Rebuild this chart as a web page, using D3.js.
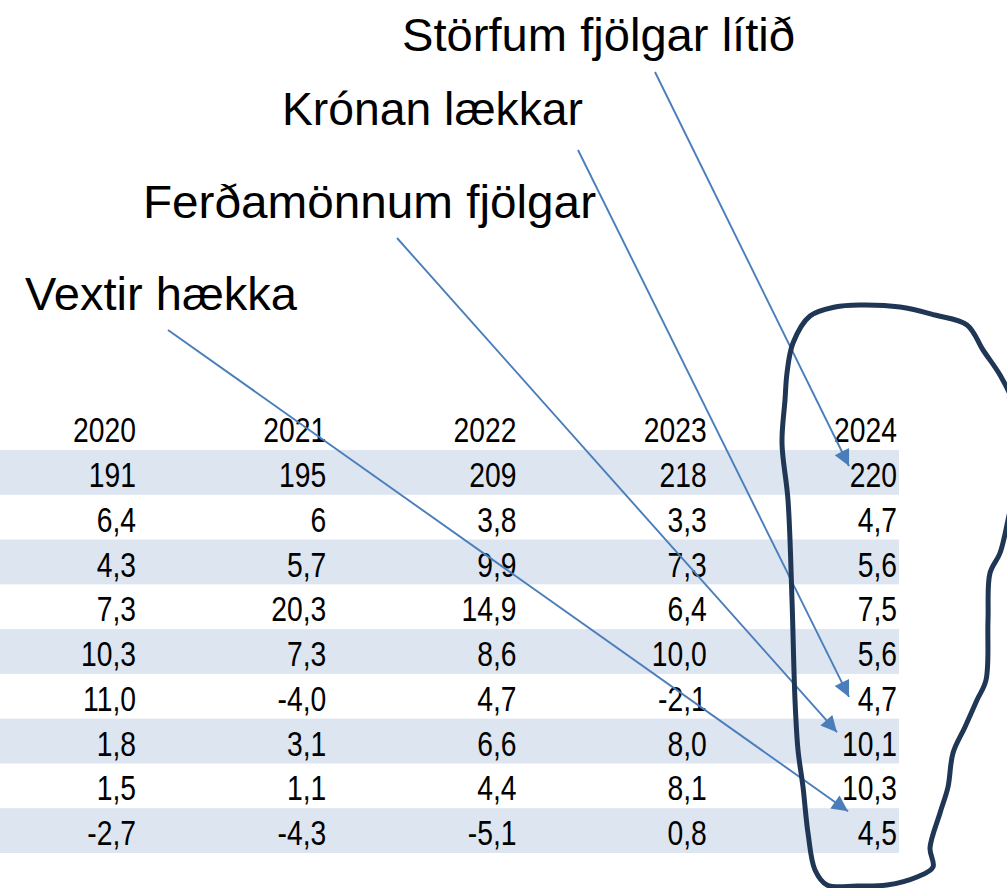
<!DOCTYPE html>
<html>
<head>
<meta charset="utf-8">
<script src="https://cdn.jsdelivr.net/npm/d3@7"></script>
<style>
  html, body { margin: 0; padding: 0; background: #ffffff; }
  svg { display: block; }
</style>
</head>
<body>
<svg id="chart" width="1007" height="888"></svg>
<script>
// ---------- data ----------
const years = ["2020", "2021", "2022", "2023", "2024"];
const col2020 = ["191", "6,4", "4,3", "7,3", "10,3", "11,0", "1,8", "1,5", "-2,7"];
const col2021 = ["195", "6", "5,7", "20,3", "7,3", "-4,0", "3,1", "1,1", "-4,3"];
const col2022 = ["209", "3,8", "9,9", "14,9", "8,6", "4,7", "6,6", "4,4", "-5,1"];
const col2023 = ["218", "3,3", "7,3", "6,4", "10,0", "-2,1", "8,0", "8,1", "0,8"];
const col2024 = ["220", "4,7", "5,6", "7,5", "5,6", "4,7", "10,1", "10,3", "4,5"];
const columns = [col2020, col2021, col2022, col2023, col2024];

const annotationLabels = ["Störfum fjölgar lítið", "Krónan lækkar", "Ferðamönnum fjölgar", "Vextir hækka"];
const annotationTargetRows = [0, 5, 6, 8];

// ---------- layout ----------
const svg = d3.select("#chart");
const nRows = col2020.length;

const x = d3.scaleLinear().domain([0, years.length - 1]).range([136, 897]);   // right edge of each column
const y = d3.scaleBand().domain(d3.range(nRows)).range([450, 853]).paddingInner(0);

function hasFont(name) {
  const c = document.createElement("canvas").getContext("2d");
  c.font = "34px monospace";
  const a = c.measureText("2020,1-").width;
  c.font = `34px "${name}", monospace`;
  const b = c.measureText("2020,1-").width;
  return a !== b;
}
const narrowOK = hasFont("Liberation Sans Narrow");
const tableFont = narrowOK ? '"Liberation Sans Narrow", "Liberation Sans", Arial, sans-serif' : '"Liberation Sans", Arial, sans-serif';
const sx = narrowOK ? 1 : 0.82;
const tableFontSize = 34.5;

// shaded bands
svg.append("g").selectAll("rect")
  .data(d3.range(nRows).filter(i => i % 2 === 0))
  .join("rect")
  .attr("x", 0)
  .attr("y", i => y(i))
  .attr("width", 899)
  .attr("height", y.bandwidth())
  .attr("fill", "#dce5f0");

const tableG = svg.append("g")
  .attr("font-family", tableFont)
  .attr("font-size", tableFontSize)
  .attr("fill", "#000")
  .attr("text-anchor", "end");

tableG.selectAll("text.hdr")
  .data(years)
  .join("text")
  .attr("class", "hdr")
  .attr("transform", (d, i) => `translate(${x(i)},${y(0) - 8}) scale(${sx},1)`)
  .text(d => d);

columns.forEach((col, ci) => {
  tableG.selectAll(`text.c${ci}`)
    .data(col)
    .join("text")
    .attr("class", `c${ci}`)
    .attr("transform", (d, ri) => `translate(${x(ci)},${y(ri) + 37}) scale(${sx},1)`)
    .text(d => d);
});

// ---------- annotations ----------
const annLayout = [
  { tx: 402, ty: 51, w: 393, sx0: 655, sy0: 72, tipX: 849, tipDy: 16 },
  { tx: 282, ty: 125, w: 301, sx0: 578, sy0: 150, tipX: 849, tipDy: 23 },
  { tx: 143, ty: 218, w: 453, sx0: 397, sy0: 238, tipX: 837, tipDy: 13.5 },
  { tx: 25, ty: 310, w: 272, sx0: 168, sy0: 330, tipX: 848, tipDy: 3 }
];

const defs = svg.append("defs");
defs.append("marker")
  .attr("id", "arrow")
  .attr("viewBox", "0 0 10 10")
  .attr("refX", 10)
  .attr("refY", 5)
  .attr("markerUnits", "userSpaceOnUse")
  .attr("markerWidth", 19)
  .attr("markerHeight", 16)
  .attr("orient", "auto")
  .append("path")
  .attr("d", "M0,0 L10,5 L0,10 Z")
  .attr("fill", "#4a7ebb");

const annG = svg.append("g");
annotationLabels.forEach((label, i) => {
  const L = annLayout[i];
  annG.append("text")
    .attr("x", L.tx)
    .attr("y", L.ty)
    .attr("font-family", '"Liberation Sans", Arial, sans-serif')
    .attr("font-size", 46)
    .attr("fill", "#000")
    .attr("textLength", L.w)
    .attr("lengthAdjust", "spacingAndGlyphs")
    .text(label);
  annG.append("line")
    .attr("x1", L.sx0)
    .attr("y1", L.sy0)
    .attr("x2", L.tipX)
    .attr("y2", y(annotationTargetRows[i]) + L.tipDy)
    .attr("stroke", "#4a7ebb")
    .attr("stroke-width", 1.9)
    .attr("marker-end", "url(#arrow)");
});

// ---------- hand-drawn loop ----------
const loopPts = [
  [793,343],[810,316],[835,307],[860,305],[900,307],[935,315],[967,325],[983,350],[1000,375],
  [1012,400],[1018,440],[1016,480],[1008,520],[1000,553],[990,573],[988,620],[986,680],[977,700],
  [965,727],[953,753],[948,787],[940,813],[930,848],[933,867],[917,877],[887,885],[857,886],[827,885],
  [815,870],[808,833],[803,787],[798,750],[795,700],[792,600],[788,500],[782,443],[785,400],[787,373]
];
svg.append("path")
  .attr("d", d3.line().curve(d3.curveCatmullRomClosed.alpha(0.5))(loopPts))
  .attr("fill", "none")
  .attr("stroke", "#1f3655")
  .attr("stroke-width", 5)
  .attr("stroke-linejoin", "round");
</script>
</body>
</html>
